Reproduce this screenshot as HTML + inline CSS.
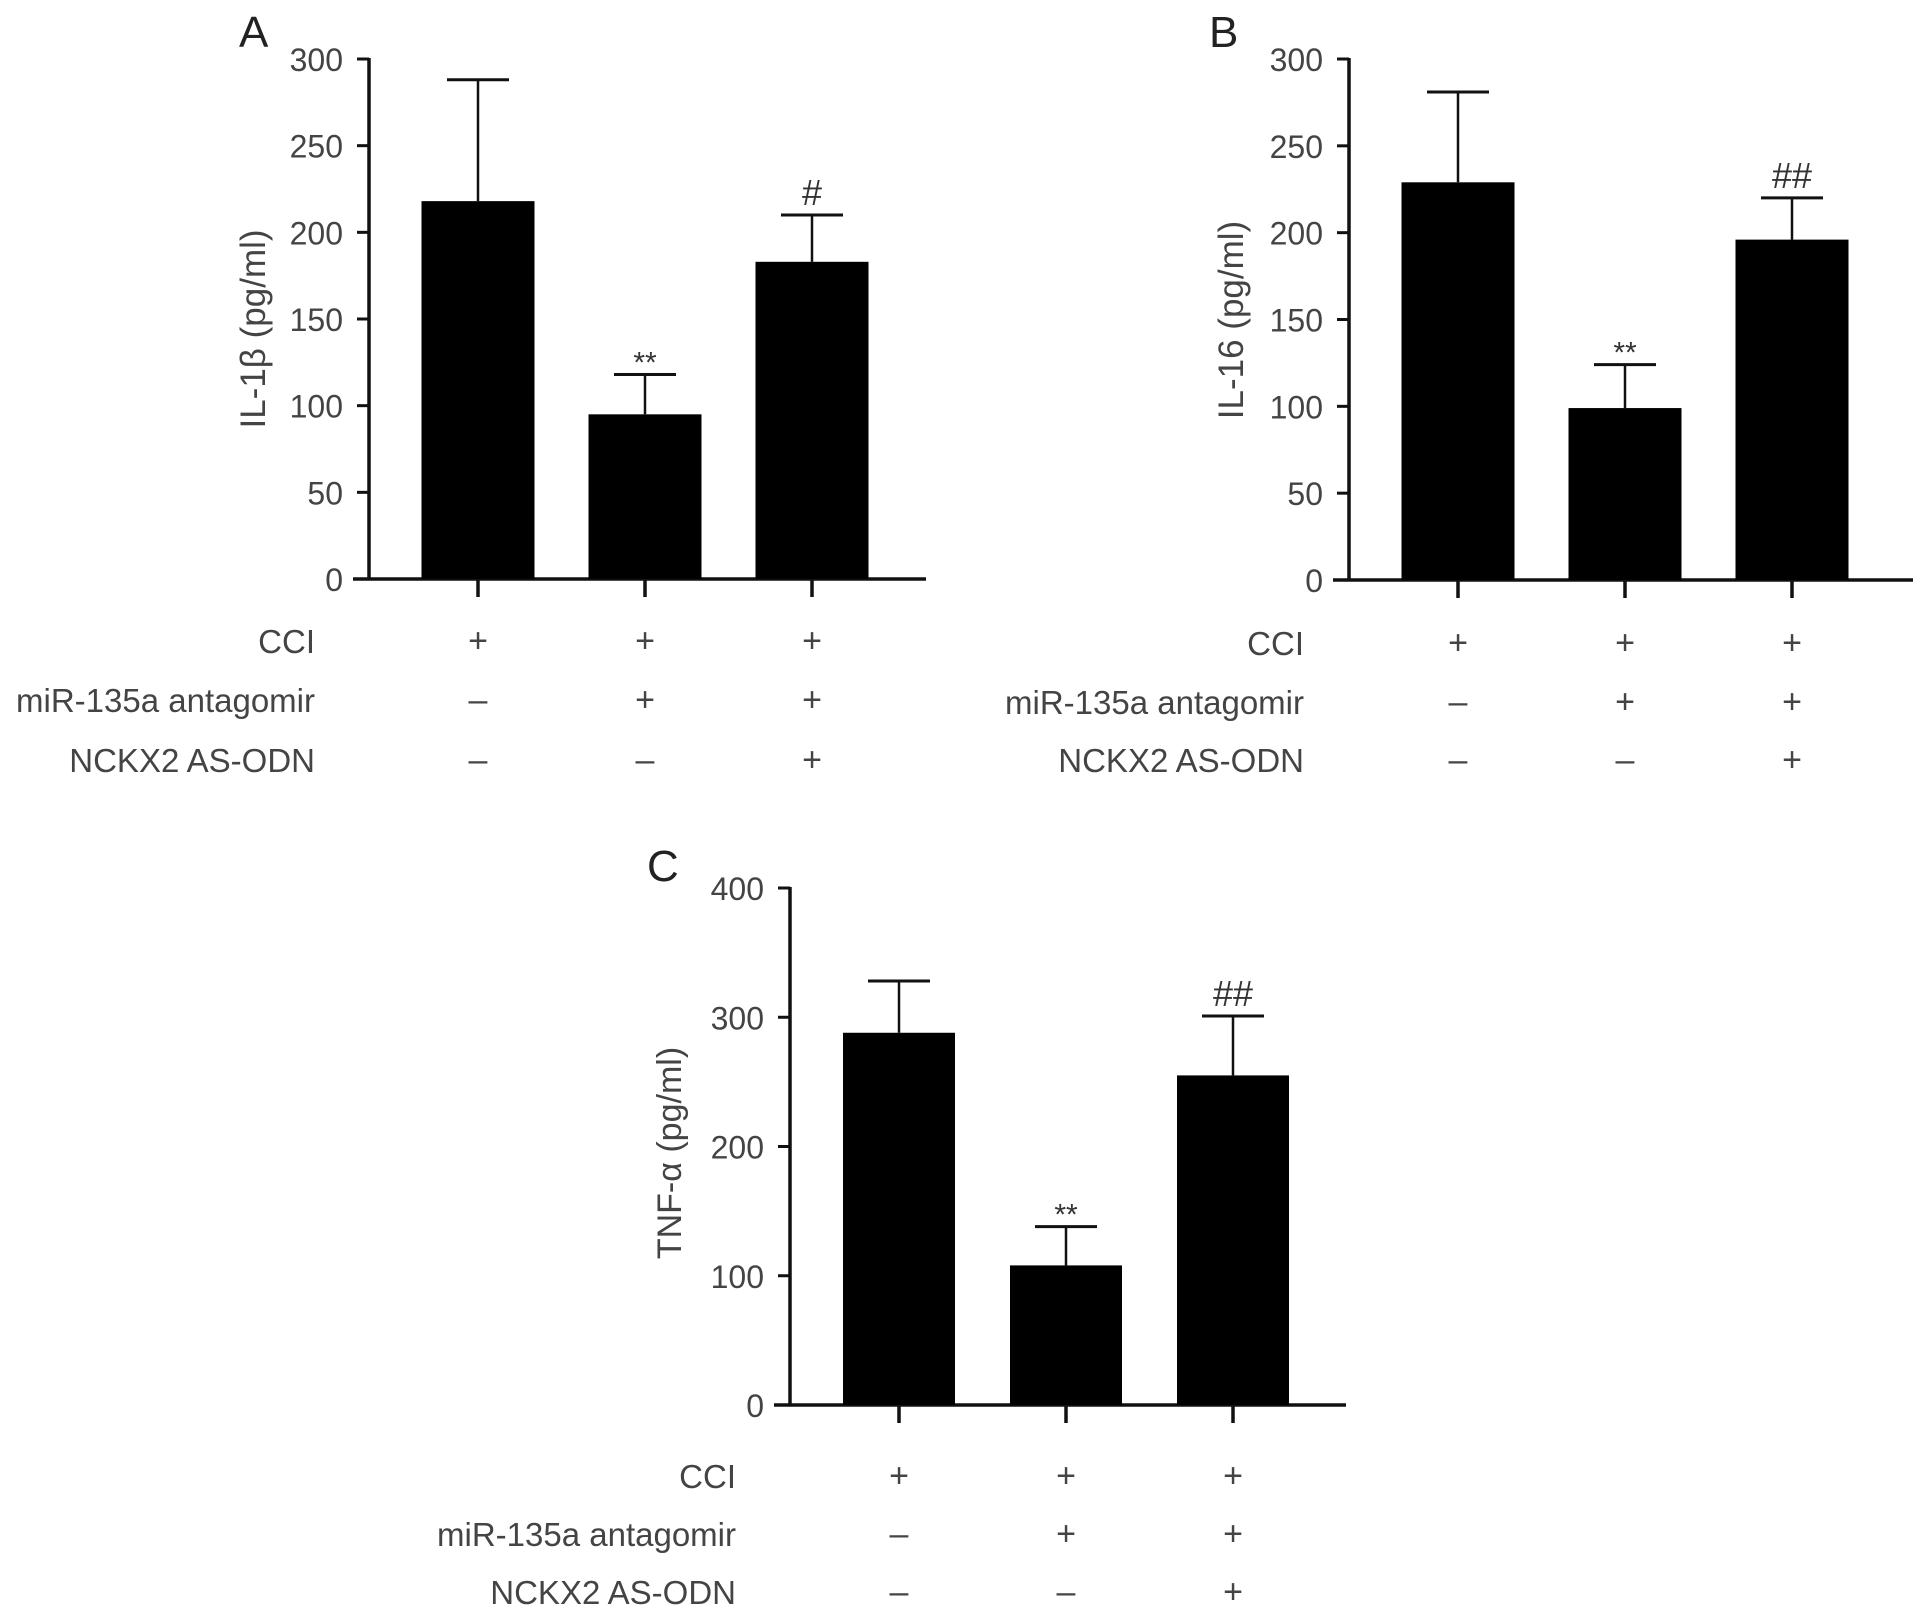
<!DOCTYPE html>
<html><head><meta charset="utf-8">
<style>
html,body{margin:0;padding:0;background:#fff;}
svg{display:block;font-family:"Liberation Sans",sans-serif;}
</style></head>
<body>
<svg id="fig" width="1913" height="1613" viewBox="0 0 1913 1613" xmlns="http://www.w3.org/2000/svg"></svg>
<script>
// Panel A data
const catsA = ["CCI+", "CCI+antagomir", "CCI+antagomir+AS-ODN"];
const meanA = [218, 95, 183];
const errA = [288, 118, 210];
const sigA = ["", "**", "#"];
const ticksA = [0, 50, 100, 150, 200, 250, 300];
// Panel B data
const meanB = [229, 99, 196];
const errB = [281, 124, 220];
const sigB = ["", "**", "##"];
const ticksB = [0, 50, 100, 150, 200, 250, 300];
// Panel C data
const meanC = [288, 108, 255];
const errC = [328, 138, 301];
const sigC = ["", "**", "##"];
const ticksC = [0, 100, 200, 300, 400];
// Treatment table
const rowLabels = ["CCI", "miR-135a antagomir", "NCKX2 AS-ODN"];
const rowSigns = [["+","+","+"],["\u2013","+","+"],["\u2013","\u2013","+"]];

const NS = "http://www.w3.org/2000/svg";
const svg = document.getElementById("fig");
function el(tag, attrs, parent){
  const e = document.createElementNS(NS, tag);
  for (const k in attrs) e.setAttribute(k, attrs[k]);
  (parent||svg).appendChild(e);
  return e;
}
function panel(cfg){
  const g = el("g", {});
  
  
  const maxV = cfg.ticks[cfg.ticks.length-1];
  const y = v => cfg.y0 - v/maxV*cfg.h;
  const xc = i => cfg.x1 + i*cfg.step;
  const t = el("text", {x: cfg.letterX, y: cfg.letterY, "font-size": 44, fill: "#222"}, g);
  t.textContent = cfg.letter;
  
  
  const ya = el("line", {x1: cfg.ax, y1: y(maxV)-1, x2: cfg.ax, y2: cfg.y0+1.5, stroke: "#111", "stroke-width": 3.5}, g);
  
  
  cfg.ticks.forEach(v => {
    const tk = el("line", {x1: cfg.ax-12, y1: y(v), x2: cfg.ax, y2: y(v), stroke: "#111", "stroke-width": 3}, g);
    
    
    const tl = el("text", {x: cfg.ax-26, y: y(v)+12, "font-size": 32, fill: "#444", "text-anchor": "end"}, g);
    tl.textContent = v;
    
    
  });
  const xa = el("line", {x1: cfg.ax-16, y1: cfg.y0, x2: cfg.xend, y2: cfg.y0, stroke: "#111", "stroke-width": 3.5}, g);
  
  
  const yt = el("text", {x: 0, y: 0, "font-size": cfg.titleSize, fill: "#444", "text-anchor": "middle", transform: `translate(${cfg.titleX},${cfg.titleY}) rotate(-90)`}, g);
  yt.textContent = cfg.title;
  
  
  cfg.mean.forEach((m, i) => {
    const cx = xc(i);
    const bar = el("rect", {x: cx-cfg.bw/2, y: y(m), width: cfg.bw, height: cfg.y0 - y(m), fill: "#000"}, g);
    
    
    const eb = el("line", {x1: cx, y1: y(m), x2: cx, y2: y(cfg.err[i]), stroke: "#111", "stroke-width": 2.5}, g);
    
    
    const cap = el("line", {x1: cx-31, y1: y(cfg.err[i]), x2: cx+31, y2: y(cfg.err[i]), stroke: "#111", "stroke-width": 3}, g);
    
    
    const xt = el("line", {x1: cx, y1: cfg.y0, x2: cx, y2: cfg.y0+18, stroke: "#111", "stroke-width": 3.5}, g);
    
    
    if (cfg.sig[i]) {
      const s = el("text", {x: cx, y: y(cfg.err[i]) - (cfg.sig[i][0]=="*" ? 2 : 10), "font-size": cfg.sig[i][0]=="*" ? 30 : 36, fill: "#333", "text-anchor": "middle"}, g);
      s.textContent = cfg.sig[i];
      
      
    }
    rowSigns.forEach((row, r) => {
      const st = el("text", {x: cx, y: cfg.rowY[r]+11, "font-size": 34, fill: "#444", "text-anchor": "middle"}, g);
      st.textContent = row[i];
      
      
    });
  });
  rowLabels.forEach((lab, r) => {
    const lt = el("text", {x: cfg.labX, y: cfg.rowY[r]+12, "font-size": 33, fill: "#444", "text-anchor": "end"}, g);
    lt.textContent = lab;
    
    
  });
}
panel({letter:"A", letterX:239, letterY:47, ax:369, y0:579, h:520, x1:478, step:167, bw:113, xend:926,
  ticks:ticksA, mean:meanA, err:errA, sig:sigA, title:"IL-1\u03b2 (pg/ml)", titleSize:35, titleX:265, titleY:329,
  rowY:[641,700,760], labX:315});
panel({letter:"B", letterX:1209, letterY:47, ax:1349, y0:580, h:521, x1:1458, step:167, bw:113, xend:1913,
  ticks:ticksB, mean:meanB, err:errB, sig:sigB, title:"IL-16 (pg/ml)", titleSize:35, titleX:1243, titleY:320,
  rowY:[643,702,760], labX:1304});
panel({letter:"C", letterX:647, letterY:881, ax:790, y0:1405, h:517, x1:899, step:167, bw:112, xend:1346,
  ticks:ticksC, mean:meanC, err:errC, sig:sigC, title:"TNF-\u03b1 (pg/ml)", titleSize:34, titleX:681, titleY:1153,
  rowY:[1476,1534,1592], labX:736});
</script>
</body></html>
